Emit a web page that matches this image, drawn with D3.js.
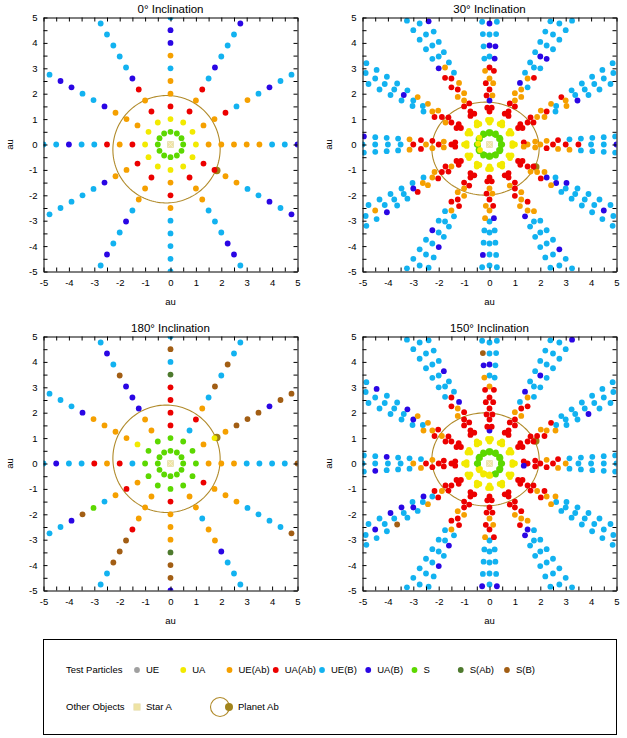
<!DOCTYPE html>
<html>
<head>
<meta charset="utf-8">
<script src="https://cdn.jsdelivr.net/npm/d3@7"></script>
<style>
  body { margin: 0; background: #fff; }
  text { font-family: "Liberation Sans", Arial, sans-serif; fill: #000; }
</style>
</head>
<body>
<svg id="chart" width="627" height="738"></svg>
<script>
// ---- categories ----
const categories     = ["UE", "UA", "UE(Ab)", "UA(Ab)", "UE(B)", "UA(B)", "S", "S(Ab)", "S(B)"];
const categoryCodes  = ["e", "a", "o", "r", "c", "b", "s", "g", "n"];
const categoryColors = ["#a0a0a0", "#f2ea00", "#f5a000", "#ec0000", "#12b2f0", "#2a06e4", "#5cd800", "#4e7a2e", "#a25e14"];

// ---- initial grid of test particles ----
const rayAngles      = [0, 30, 60, 90, 120, 150, 180, 210, 240, 270, 300, 330]; // deg
const radii          = [0.5, 1, 1.5, 2, 2.5, 3, 3.5, 4, 4.5, 5, 5.5, 6, 6.5];   // au
const nodeLongitudes = [0, 60, 120];                                            // deg

// ---- panels ----
const panelTitles  = ["0° Inclination", "30° Inclination", "180° Inclination", "150° Inclination"];
const inclinations = [0, 30, 180, 150];
const tickValues   = [-5, -4.5, -4, -3.5, -3, -2.5, -2, -1.5, -1, -0.5, 0, 0.5, 1, 1.5, 2, 2.5, 3, 3.5, 4, 4.5, 5];

// ---- planet Ab orbit: a (au), e, argument of periastron (deg); planet longitude (deg) ----
const orbitElements   = [2.12, 0.115, 50];
const planetLongitude = [-30];

// Outcome of each particle, one string per sky ray (0°..330°), one letter per radius.
// Coplanar panels: the three node families coincide, one string set.
const outcome0 = [
  "saoooooccb-", "saoorcocbcc", "sarorcbcccb", "saroocobbc-",
  "sarorbccccc", "saooobccbbc", "sarorccbcc-", "saroobccccc",
  "saroocbccbc", "saoroccccc-", "saroocccbbc", "sarrooccbcb"
];
const outcome180 = [
  "ssoooccccn-", "ssoaonnnbnn", "sscrocncncc", "ssrrrrgcnc-",
  "ssoobbbncbc", "ssaoooobccc", "sscrorccbc-", "ssorocsnbcc",
  "ssooornnncc", "ssrooognnb-", "ssoocoobccc", "ssroooccccn"
];
// Inclined panels: node families 0°, 60°, 120°.
const outcome30 = [
  [ // node 0°
    "saoorrrccbc--", "sarrocobccc--", "sarrocrcbcccc", "sarbrorcbcb--",
    "sarrorrbccccc", "sarorcccccc--", "sarrorcccc---", "sarrocccccc--",
    "sarrorccbcccc", "saroroccccc--", "sarrorocccbcc", "sarrocbcccc--"
  ],
  [ // node 60°
    "saroorccccc--", "sarroorccccc-", "sarooocbccc--", "saroorbbcc---",
    "sarroocccccb-", "sarrroccbcccc", "saroorocccc--", "sarrrorccbcc-",
    "saroroccccc--", "sarrooccbc---", "sarorobccccc-", "sarrobbccccbc"
  ],
  [ // node 120°
    "saooroocccc--", "sarrorcoccccc", "sarrobcccccc-", "sarrrocccc---",
    "sarorrocccc--", "aarroooccccc-", "aarorrocccb--", "aaroroobcccoc",
    "sarrorcccbcc-", "sarorbcccc---", "sarrooccccc--", "sarorocccccc-"
  ]
];
const outcome150 = [
  [ // node 0°
    "sarrrocccc---", "sarrroccbcc--", "sarrorccccccb", "sabrrrocbcc--",
    "sarrorccccccc", "sarrroccccc--", "sarrrocccc---", "aarrrbcbbcc--",
    "aarrorccccccc", "aarrorccccc--", "sarrroccccccc", "sarrroccccc--"
  ],
  [ // node 60°
    "sarrorccccc--", "sarrorcccccc-", "sarrrocbccc--", "sarrrrcccc---",
    "sarrrbccbccc-", "sarroocbccccc", "sarrrocccbc--", "aarrroccncccc",
    "aarrroccccc--", "aarrrocccb---", "sarrorbccccc-", "sarrooccccccc"
  ],
  [ // node 120°
    "sabrroccccc--", "sarrroccccccc", "sarrocbccccc-", "sarrrrobnc---",
    "sarrorccccc--", "sarrroobccbc-", "sarrocccbcc--", "aarroccbcccbc",
    "aarrorcbcbcc-", "aarrorcccb---", "sarrobccccc--", "sarrrocccccc-"
  ]
];
const panelOutcomes = [[outcome0], outcome30, [outcome180], outcome150];

// ---- layout ----
const panelX = [[43.5, 297.5], [362.5, 616.5], [43.5, 297.5], [362.5, 616.5]];
const panelY = [[271.5, 17.5], [271.5, 17.5], [590.5, 336.5], [590.5, 336.5]];

const svg = d3.select("#chart");
const colorOf = d3.scaleOrdinal().domain(categoryCodes).range(categoryColors);
const rad = d => d * Math.PI / 180;

// Sky-plane position of a particle on a circle of radius r at longitude theta,
// in a plane tilted by incl about the node line at longitude node.
function project(r, theta, node, incl) {
  const px = r * Math.cos(rad(theta)), py = r * Math.sin(rad(theta));
  const nx = Math.cos(rad(node)), ny = Math.sin(rad(node));
  const ux = -ny, uy = nx;
  const a = px * nx + py * ny;
  const b = (px * ux + py * uy) * Math.cos(rad(incl));
  return [a * nx + b * ux, a * ny + b * uy];
}

panelTitles.forEach((title, k) => {
  const incl = inclinations[k];
  const x = d3.scaleLinear().domain([-5, 5]).range(panelX[k]);
  const y = d3.scaleLinear().domain([-5, 5]).range(panelY[k]);
  const g = svg.append("g");
  const cx = (panelX[k][0] + panelX[k][1]) / 2;
  const cy = (panelY[k][0] + panelY[k][1]) / 2;
  const top = panelY[k][1], bottom = panelY[k][0];

  const clipId = "clip" + k;
  svg.append("clipPath").attr("id", clipId).append("rect")
    .attr("x", panelX[k][0]).attr("y", top)
    .attr("width", panelX[k][1] - panelX[k][0]).attr("height", bottom - top);
  const plot = g.append("g").attr("clip-path", `url(#${clipId})`);

  // orbit of planet Ab
  const [a, e, w] = orbitElements;
  const orbitPts = d3.range(0, 361, 2).map(nu => {
    const r = a * (1 - e * e) / (1 + e * Math.cos(rad(nu)));
    return project(r, nu + w, 0, incl);
  });
  plot.append("path")
    .attr("d", d3.line().x(p => x(p[0])).y(p => y(p[1]))(orbitPts))
    .attr("fill", "none").attr("stroke", "#b08a2a").attr("stroke-width", 1.1);

  // planet Ab
  const nuP = planetLongitude[0] - w;
  const rP = a * (1 - e * e) / (1 + e * Math.cos(rad(nuP)));
  const pP = project(rP, planetLongitude[0], 0, incl);
  plot.append("circle").attr("cx", x(pP[0]) + 1.2).attr("cy", y(pP[1])).attr("r", 3.7)
    .attr("fill", "#9e7e16");

  // particles
  const particles = [];
  panelOutcomes[k].forEach((rays, f) => {
    const node = nodeLongitudes[f];
    rays.forEach((codes, j) => {
      const skyAngle = rayAngles[j];
      const theta = Math.cos(rad(incl)) < 0 ? 2 * node - skyAngle : skyAngle;
      for (let i = 0; i < codes.length; i++) {
        if (codes[i] === "-") continue;
        const p = project(radii[i], theta, node, incl);
        particles.push({ x: p[0], y: p[1], code: codes[i] });
      }
    });
  });
  plot.selectAll("circle.p").data(particles).join("circle")
    .attr("class", "p")
    .attr("cx", d => x(d.x)).attr("cy", d => y(d.y))
    .attr("r", 2.9)
    .attr("fill", d => colorOf(d.code));

  // star A
  const s = 3.2;
  plot.append("rect").attr("x", x(0) - s).attr("y", y(0) - s)
    .attr("width", 2 * s).attr("height", 2 * s)
    .attr("fill", "#eee3a4").attr("stroke", "#e4dcb0").attr("stroke-width", 0.6);
  plot.append("path")
    .attr("d", `M${x(0) - s},${y(0) - s}L${x(0) + s},${y(0) + s}M${x(0) + s},${y(0) - s}L${x(0) - s},${y(0) + s}`)
    .attr("stroke", "#f8f4d8").attr("stroke-width", 0.7);

  // axes: ticks inward on all four sides, labels on bottom and left
  const fmt = d => Number.isInteger(d) ? String(d) : "";
  const bottomAxis = g.append("g").attr("transform", `translate(0,${bottom})`)
    .call(d3.axisBottom(x).tickValues(tickValues).tickSizeInner(-4).tickSizeOuter(0).tickPadding(8).tickFormat(fmt));
  const topAxis = g.append("g").attr("transform", `translate(0,${top})`)
    .call(d3.axisTop(x).tickValues(tickValues).tickSizeInner(-4).tickSizeOuter(0).tickFormat(""));
  const leftAxis = g.append("g").attr("transform", `translate(${panelX[k][0]},0)`)
    .call(d3.axisLeft(y).tickValues(tickValues).tickSizeInner(-4).tickSizeOuter(0).tickPadding(6).tickFormat(fmt));
  const rightAxis = g.append("g").attr("transform", `translate(${panelX[k][1]},0)`)
    .call(d3.axisRight(y).tickValues(tickValues).tickSizeInner(-4).tickSizeOuter(0).tickFormat(""));
  [bottomAxis, topAxis, leftAxis, rightAxis].forEach(ax => {
    ax.selectAll("path.domain").attr("stroke", "#000").attr("stroke-width", 1);
    ax.selectAll(".tick line").attr("stroke", "#000").attr("stroke-width", 1);
    ax.selectAll("text").attr("font-size", 9.5).attr("font-family", "Liberation Sans, Arial, sans-serif").attr("fill", "#000");
  });

  // titles
  g.append("text").attr("x", cx).attr("y", top - 5).attr("text-anchor", "middle")
    .attr("font-size", 11.5).text(title);
  g.append("text").attr("x", cx).attr("y", bottom + 33).attr("text-anchor", "middle")
    .attr("font-size", 9.5).text("au");
  g.append("text").attr("transform", `translate(${panelX[k][0] - 31},${cy}) rotate(-90)`)
    .attr("text-anchor", "middle").attr("font-size", 9.5).text("au");
});

// ---- legend ----
const legend = svg.append("g");
legend.append("rect").attr("x", 43.5).attr("y", 639.5).attr("width", 573).attr("height", 95)
  .attr("fill", "none").attr("stroke", "#000").attr("stroke-width", 1);
const row1 = 670, row2 = 707;
legend.append("text").attr("x", 66).attr("y", row1).attr("dy", "0.35em").attr("font-size", 9.5).text("Test Particles");
legend.append("text").attr("x", 66).attr("y", row2).attr("dy", "0.35em").attr("font-size", 9.5).text("Other Objects");
const lx = d3.scalePoint().domain(categories).range([137, 507]);
const items = legend.selectAll("g.item").data(categories).join("g").attr("class", "item")
  .attr("transform", d => `translate(${lx(d)},${row1})`);
items.append("circle").attr("r", 2.9).attr("fill", (d, i) => categoryColors[i]);
items.append("text").attr("x", 9).attr("dy", "0.35em").attr("font-size", 9.5).text(d => d);

// star A
legend.append("rect").attr("x", 137 - 3.2).attr("y", row2 - 3.2).attr("width", 6.4).attr("height", 6.4)
  .attr("fill", "#eee3a4").attr("stroke", "#e4dcb0").attr("stroke-width", 0.6);
legend.append("text").attr("x", 146).attr("y", row2).attr("dy", "0.35em").attr("font-size", 9.5).text("Star A");
// planet Ab
legend.append("circle").attr("cx", 220).attr("cy", row2).attr("r", 9.5)
  .attr("fill", "none").attr("stroke", "#b08a2a").attr("stroke-width", 1.1);
legend.append("circle").attr("cx", 229).attr("cy", row2).attr("r", 4)
  .attr("fill", "#a2841c");
legend.append("text").attr("x", 238).attr("y", row2).attr("dy", "0.35em").attr("font-size", 9.5).text("Planet Ab");
</script>
</body>
</html>
